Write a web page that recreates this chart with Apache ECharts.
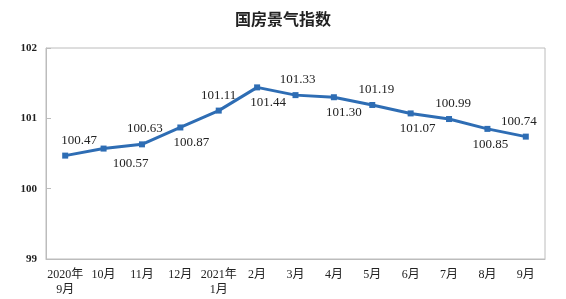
<!DOCTYPE html>
<html>
<head>
<meta charset="utf-8">
<script src="https://cdn.jsdelivr.net/npm/echarts@6/dist/echarts.min.js"></script>
<style>
  html, body { margin: 0; padding: 0; background: #fff; }
  #chart { width: 566px; height: 299px; }
</style>
</head>
<body>
<div id="chart"></div>
<script>
// 月份
var months = ['2020年\n9月', '10月', '11月', '12月', '2021年\n1月', '2月', '3月', '4月', '5月', '6月', '7月', '8月', '9月']
// 国房景气指数
var indexValues = [100.47, 100.57, 100.63, 100.87, 101.11, 101.44, 101.33, 101.30, 101.19, 101.07, 100.99, 100.85, 100.74]
// 标签位置：上下交替
var labelPos = ['top', 'bottom', 'top', 'bottom', 'top', 'bottom', 'top', 'bottom', 'top', 'bottom', 'top', 'bottom', 'top']
// 标签水平微调
var labelShift = [14, 27, 3, 11, 0, 11, 2, 10, 4, 7, 4, 3, -7]

var serif = '"Liberation Serif", "Noto Sans CJK SC", serif'

var chart = echarts.init(document.getElementById('chart'))

var option = {
  animation: false,
  title: {
    text: '国房景气指数',
    left: 'center',
    top: 6,
    textStyle: { fontFamily: '"Noto Sans CJK SC"', fontSize: 16, fontWeight: 'bold', color: '#222' }
  },
  grid: {
    left: 46, right: 21, top: 48, bottom: 40,
    show: true, borderColor: '#bcbcbc', borderWidth: 1
  },
  xAxis: {
    type: 'category',
    data: months,
    boundaryGap: true,
    axisLine: { lineStyle: { color: '#bcbcbc' } },
    axisTick: { inside: true, length: 4, lineStyle: { color: '#bcbcbc' } },
    axisLabel: { fontFamily: serif, fontSize: 12, color: '#222', margin: 8, lineHeight: 15, interval: 0 }
  },
  yAxis: {
    type: 'value',
    min: 99, max: 102, interval: 1,
    splitLine: { show: false },
    axisLine: { show: true, lineStyle: { color: '#bcbcbc' } },
    axisTick: { show: true, inside: true, length: 5, lineStyle: { color: '#bcbcbc' } },
    axisLabel: { fontFamily: serif, fontSize: 11, fontWeight: 'bold', color: '#222', margin: 9 }
  },
  series: [{
    type: 'line',
    data: indexValues.map(function (v, i) {
      return { value: v, label: { position: labelPos[i], offset: [labelShift[i], 0] } }
    }),
    symbol: 'rect',
    symbolSize: 6,
    lineStyle: { color: '#2e6db4', width: 3 },
    itemStyle: { color: '#2e6db4' },
    label: {
      show: true,
      distance: 6,
      fontFamily: serif,
      fontSize: 13,
      color: '#222',
      formatter: function (p) { return p.value.toFixed(2) }
    }
  }]
}

chart.setOption(option)
</script>
</body>
</html>
